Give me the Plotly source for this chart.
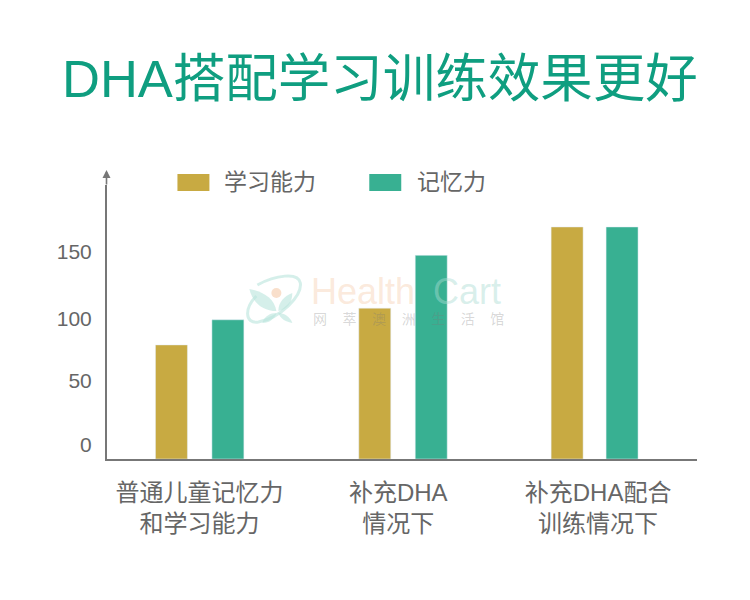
import plotly.graph_objects as go

categories = ["普通儿童记忆力<br>和学习能力", "补充DHA<br>情况下", "补充DHA配合<br>训练情况下"]
learning = [77.5, 106, 169]
memory = [97, 147, 169]
tick_labels = ["0", "50", "100", "150"]

# the tick labels in the picture are not evenly spaced
tick_vals = [0, 50, 98, 150]
axis_floor = -11
label_x = [199, 398, 598]
learning_x = [171, 374.5, 567]
memory_x = [227.5, 431, 622]

GOLD = "#c8aa42"
GREEN = "#38b092"
TEXT = "#666666"
LOGO = "rgba(185,228,220,0.6)"
FONT = "Liberation Sans, Noto Sans CJK SC"
W, H = 750, 600
# plot area on the page, the page itself adds 8px of body margin
LEFT, RIGHT, TOP, BOTTOM = 106.5, 697, 185, 459


def px(x):
    return (x - LEFT) / (RIGHT - LEFT)


def py(y):
    return (BOTTOM - y) / (BOTTOM - TOP)


def path(points):
    # points in page pixels, cubic segments after the first point
    start = points[0]
    d = f"M {px(start[0])} {py(start[1])}"
    for c1, c2, end in points[1:]:
        d += f" C {px(c1[0])} {py(c1[1])} {px(c2[0])} {py(c2[1])} {px(end[0])} {py(end[1])}"
    return d


fig = go.Figure()
fig.add_trace(go.Bar(x=learning_x, y=[v - axis_floor for v in learning], base=axis_floor,
                     width=32, name="学习能力", marker_color=GOLD))
fig.add_trace(go.Bar(x=memory_x, y=[v - axis_floor for v in memory], base=axis_floor,
                     width=32, name="记忆力", marker_color=GREEN))

annotations = [
    dict(x=px(380), y=py(78), text="DHA搭配学习训练效果更好", font=dict(size=52.5, color="#0f9e80")),
    dict(x=px(269.5), y=py(182), text="学习能力", font=dict(size=23, color=TEXT)),
    dict(x=px(451), y=py(182), text="记忆力", font=dict(size=23, color=TEXT)),
    # watermark
    dict(x=px(363), y=py(291), text="Health", font=dict(size=36, color="rgba(245,200,165,0.4)")),
    dict(x=px(467), y=py(291), text="Cart", font=dict(size=36, color="rgba(170,220,210,0.45)")),
    dict(x=px(408), y=py(319), text="网    萃    澳    洲    生    活    馆", font=dict(size=14, color="rgba(120,120,120,0.3)")),
    # axis arrow
    dict(x=px(106), y=py(170), ax=0, ay=16, text="", showarrow=True, arrowhead=2,
         arrowsize=1, arrowwidth=1.6, arrowcolor="#777777"),
]
for a in annotations:
    a.setdefault("xref", "paper")
    a.setdefault("yref", "paper")
    a.setdefault("showarrow", False)
    a.setdefault("xanchor", "center")
    a.setdefault("yanchor", "middle")

logo_paths = [
    # ring, open at lower left
    dict(line=dict(color=LOGO, width=3), path=path([
        (257, 285),
        ((275, 275), (298, 272), (300, 283)),
        ((302, 296), (280, 318), (258, 322)),
        ((244, 324), (244, 308), (256, 296)),
    ])),
    # leaves
    dict(fillcolor=LOGO, line_width=0, path=path([
        (249, 289),
        ((262, 291), (274, 298), (276, 311)),
        ((262, 311), (252, 302), (249, 289)),
    ]) + " Z"),
    dict(fillcolor=LOGO, line_width=0, path=path([
        (292, 293),
        ((292, 303), (286, 310), (278, 311)),
        ((278, 302), (284, 296), (292, 293)),
    ]) + " Z"),
    dict(fillcolor=LOGO, line_width=0, path=path([
        (262, 323),
        ((264, 316), (270, 313), (276, 313)),
        ((274, 319), (269, 323), (262, 323)),
    ]) + " Z"),
    dict(fillcolor=LOGO, line_width=0, path=path([
        (292, 323),
        ((286, 322), (280, 319), (278, 313)),
        ((284, 313), (290, 317), (292, 323)),
    ]) + " Z"),
]

shapes = [
    dict(type="rect", xref="paper", yref="paper", x0=px(177), x1=px(209), y0=py(191), y1=py(174),
         fillcolor=GOLD, line_width=0),
    dict(type="rect", xref="paper", yref="paper", x0=px(369), x1=px(401), y0=py(191), y1=py(174),
         fillcolor=GREEN, line_width=0),
    # watermark logo
    dict(type="circle", xref="paper", yref="paper", x0=px(271), x1=px(281), y0=py(298), y1=py(288),
         fillcolor="rgba(248,215,190,0.8)", line_width=0, layer="above"),
]
for p in logo_paths:
    shapes.append(dict(type="path", xref="paper", yref="paper", layer="above", **p))

fig.update_layout(
    width=W, height=H, autosize=False,
    margin=dict(l=LEFT - 8, r=W + 8 - RIGHT, t=TOP - 8, b=H + 8 - BOTTOM, pad=0),
    paper_bgcolor="white", plot_bgcolor="white",
    showlegend=False,
    font=dict(family=FONT, color=TEXT),
    annotations=annotations, shapes=shapes,
    xaxis=dict(range=[LEFT, RIGHT], tickvals=label_x, ticktext=categories, ticks="",
               tickfont=dict(size=24, color=TEXT), showgrid=False, zeroline=False, ticklabelstandoff=11,
               showline=True, linecolor="#777777", linewidth=2),
    yaxis=dict(range=[axis_floor, (445 - TOP) / 1.29], tickvals=tick_vals, ticktext=tick_labels, ticks="",
               tickfont=dict(size=21, color=TEXT), showgrid=False, zeroline=False, ticklabelstandoff=9,
               showline=True, linecolor="#777777", linewidth=2),
)

fig.write_html("out.html")
